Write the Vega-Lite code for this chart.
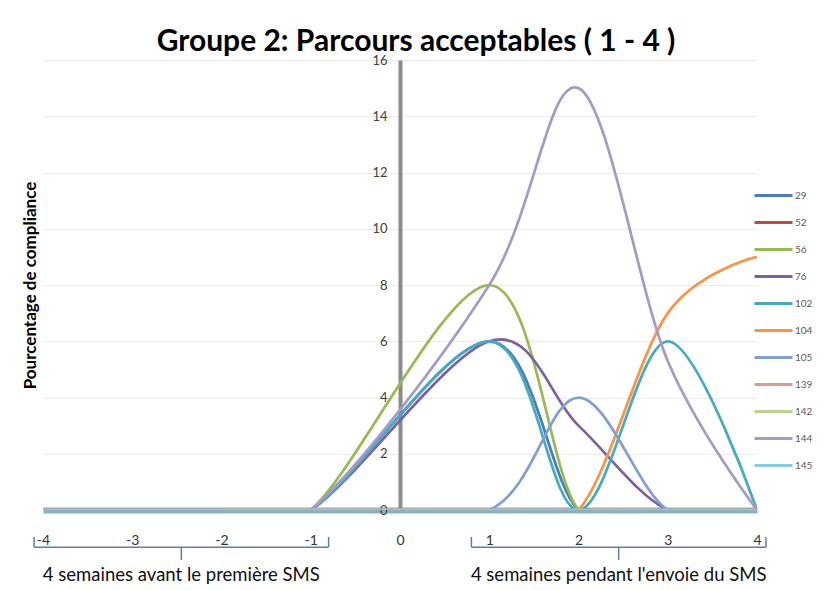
{
  "$schema": "https://vega.github.io/schema/vega-lite/v6.json",
  "autosize": {"type": "none"},
  "padding": {"left": 43, "top": 60, "right": 68, "bottom": 80},
  "width": 714,
  "height": 450,
  "background": "white",
  "config": {"view": {"stroke": null}, "font": "Lato"},
  "title": {"text": "Groupe 2: Parcours acceptables ( 1 - 4 )", "frame": "group", "anchor": "middle", "dx": 16, "dy": 35, "offset": 8, "baseline": "alphabetic", "fontSize": 30, "font": "Lato", "fontWeight": "bold", "color": "#000000"},
  "datasets": {
    "series": [
      {"id": "29", "week": -4, "pct": 0}, {"id": "29", "week": -3, "pct": 0}, {"id": "29", "week": -2, "pct": 0}, {"id": "29", "week": -1, "pct": 0}, {"id": "29", "week": 1, "pct": 6}, {"id": "29", "week": 2, "pct": 0}, {"id": "29", "week": 3, "pct": 0}, {"id": "29", "week": 4, "pct": 0},
      {"id": "52", "week": -4, "pct": 0}, {"id": "52", "week": -3, "pct": 0}, {"id": "52", "week": -2, "pct": 0}, {"id": "52", "week": -1, "pct": 0}, {"id": "52", "week": 1, "pct": 0}, {"id": "52", "week": 2, "pct": 0}, {"id": "52", "week": 3, "pct": 0}, {"id": "52", "week": 4, "pct": 0},
      {"id": "56", "week": -4, "pct": 0}, {"id": "56", "week": -3, "pct": 0}, {"id": "56", "week": -2, "pct": 0}, {"id": "56", "week": -1, "pct": 0}, {"id": "56", "week": 1, "pct": 8}, {"id": "56", "week": 2, "pct": 0}, {"id": "56", "week": 3, "pct": 0}, {"id": "56", "week": 4, "pct": 0},
      {"id": "76", "week": -4, "pct": 0}, {"id": "76", "week": -3, "pct": 0}, {"id": "76", "week": -2, "pct": 0}, {"id": "76", "week": -1, "pct": 0}, {"id": "76", "week": 1, "pct": 6}, {"id": "76", "week": 2, "pct": 3}, {"id": "76", "week": 3, "pct": 0}, {"id": "76", "week": 4, "pct": 0},
      {"id": "102", "week": -4, "pct": 0}, {"id": "102", "week": -3, "pct": 0}, {"id": "102", "week": -2, "pct": 0}, {"id": "102", "week": -1, "pct": 0}, {"id": "102", "week": 1, "pct": 6}, {"id": "102", "week": 2, "pct": 0}, {"id": "102", "week": 3, "pct": 6}, {"id": "102", "week": 4, "pct": 0},
      {"id": "104", "week": -4, "pct": 0}, {"id": "104", "week": -3, "pct": 0}, {"id": "104", "week": -2, "pct": 0}, {"id": "104", "week": -1, "pct": 0}, {"id": "104", "week": 1, "pct": 0}, {"id": "104", "week": 2, "pct": 0}, {"id": "104", "week": 3, "pct": 7}, {"id": "104", "week": 4, "pct": 9},
      {"id": "105", "week": -4, "pct": 0}, {"id": "105", "week": -3, "pct": 0}, {"id": "105", "week": -2, "pct": 0}, {"id": "105", "week": -1, "pct": 0}, {"id": "105", "week": 1, "pct": 0}, {"id": "105", "week": 2, "pct": 4}, {"id": "105", "week": 3, "pct": 0}, {"id": "105", "week": 4, "pct": 0},
      {"id": "139", "week": -4, "pct": 0}, {"id": "139", "week": -3, "pct": 0}, {"id": "139", "week": -2, "pct": 0}, {"id": "139", "week": -1, "pct": 0}, {"id": "139", "week": 1, "pct": 0}, {"id": "139", "week": 2, "pct": 0}, {"id": "139", "week": 3, "pct": 0}, {"id": "139", "week": 4, "pct": 0},
      {"id": "142", "week": -4, "pct": 0}, {"id": "142", "week": -3, "pct": 0}, {"id": "142", "week": -2, "pct": 0}, {"id": "142", "week": -1, "pct": 0}, {"id": "142", "week": 1, "pct": 0}, {"id": "142", "week": 2, "pct": 0}, {"id": "142", "week": 3, "pct": 0}, {"id": "142", "week": 4, "pct": 0},
      {"id": "144", "week": -4, "pct": 0}, {"id": "144", "week": -3, "pct": 0}, {"id": "144", "week": -2, "pct": 0}, {"id": "144", "week": -1, "pct": 0}, {"id": "144", "week": 1, "pct": 8}, {"id": "144", "week": 2, "pct": 15}, {"id": "144", "week": 3, "pct": 5.3}, {"id": "144", "week": 4, "pct": 0},
      {"id": "145", "week": -4, "pct": 0}, {"id": "145", "week": -3, "pct": 0}, {"id": "145", "week": -2, "pct": 0}, {"id": "145", "week": -1, "pct": 0}, {"id": "145", "week": 1, "pct": 0}, {"id": "145", "week": 2, "pct": 0}, {"id": "145", "week": 3, "pct": 0}, {"id": "145", "week": 4, "pct": 0}
    ],
    "braces": [
      {"x0": -4.1, "x1": -0.8, "mid": -2.45, "label": "4 semaines avant le première SMS"},
      {"x0": 0.8, "x1": 4.1, "mid": 2.45, "label": "4 semaines pendant l'envoie du SMS"}
    ]
  },
  "layer": [
    {
      "data": {"name": "series"},
      "mark": {"type": "line", "interpolate": "cardinal", "clip": true, "strokeWidth": 2.75},
      "encoding": {
        "x": {"field": "week", "type": "quantitative", "scale": {"domain": [-4, 4], "nice": false, "zero": false},
              "axis": {"title": null, "values": [-4, -3, -2, -1, 0, 1, 2, 3, 4], "labelExpr": "datum.value + ''", "ticks": false, "grid": false, "domainColor": "#8DB0C3", "domainWidth": 6, "labelPadding": 23, "labelFontSize": 14, "labelColor": "#333333", "labelFlush": false}},
        "y": {"field": "pct", "type": "quantitative", "scale": {"domain": [0, 16], "nice": false},
              "axis": {"title": "Pourcentage de compliance", "values": [0, 2, 4, 6, 8, 10, 12, 14, 16], "offset": -357, "domainColor": "#8c8c8c", "domainWidth": 4, "ticks": false, "labelPadding": 13, "labelFontSize": 13, "labelColor": "#404040", "grid": true, "gridColor": "#ebebeb", "titleX": -370, "titleY": 225, "titleFontSize": 17, "titleFontWeight": "bold", "titleColor": "#000000", "titleBaseline": "middle", "titleAlign": "center"}},
        "color": {"field": "id", "type": "nominal",
                  "scale": {"domain": ["29", "52", "56", "76", "102", "104", "105", "139", "142", "144", "145"],
                            "range": ["#4A7EBB", "#BE4B48", "#98B954", "#7D60A0", "#46AAC5", "#F79646", "#829FD2", "#D99C92", "#B8D48F", "#A59BC8", "#8CCBDD"]},
                  "legend": {"orient": "none", "legendX": 710, "legendY": 115, "title": null, "symbolType": "M-1,0H1", "symbolSize": 1444, "symbolStrokeWidth": 3, "labelFontSize": 10, "labelColor": "#595959", "labelOffset": 1, "rowPadding": -1.5}}
      }
    },
    {
      "data": {"name": "braces"},
      "mark": {"type": "rule", "color": "#5A7FB5", "strokeWidth": 1.5},
      "encoding": {"x": {"field": "x0", "type": "quantitative"}, "x2": {"field": "x1"}, "y": {"datum": -1.32}}
    },
    {
      "data": {"name": "braces"},
      "mark": {"type": "rule", "color": "#5A7FB5", "strokeWidth": 1.5},
      "encoding": {"x": {"field": "x0", "type": "quantitative"}, "y": {"datum": -0.96}, "y2": {"datum": -1.32}}
    },
    {
      "data": {"name": "braces"},
      "mark": {"type": "rule", "color": "#5A7FB5", "strokeWidth": 1.5},
      "encoding": {"x": {"field": "x1", "type": "quantitative"}, "y": {"datum": -0.96}, "y2": {"datum": -1.32}}
    },
    {
      "data": {"name": "braces"},
      "mark": {"type": "rule", "color": "#5A7FB5", "strokeWidth": 1.5},
      "encoding": {"x": {"field": "mid", "type": "quantitative"}, "y": {"datum": -1.32}, "y2": {"datum": -1.78}}
    },
    {
      "data": {"name": "braces"},
      "mark": {"type": "text", "fontSize": 18.5, "color": "#111111", "baseline": "middle", "align": "center", "font": "Lato"},
      "encoding": {"x": {"field": "mid", "type": "quantitative"}, "y": {"datum": -2.31}, "text": {"field": "label"}}
    }
  ]
}
